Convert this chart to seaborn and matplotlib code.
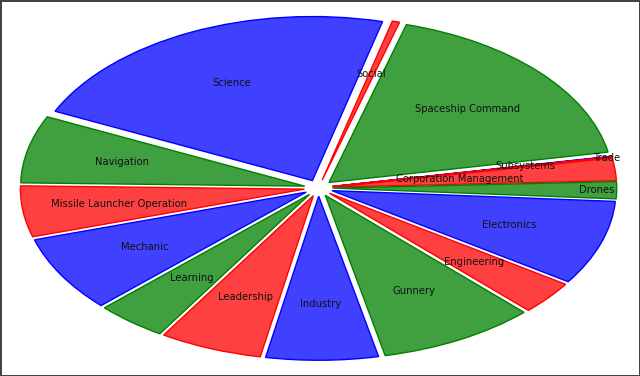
import matplotlib
matplotlib.use('Agg')
import matplotlib.pyplot as plt
import seaborn as sns
import numpy as np
from matplotlib.colors import to_rgba

# skill groups, clockwise from the 3 o'clock side
skills = ['Corporation Management', 'Drones', 'Electronics', 'Engineering', 'Gunnery',
          'Industry', 'Leadership', 'Learning', 'Mechanic', 'Missile Launcher Operation',
          'Navigation', 'Science', 'Social', 'Spaceship Command', 'Subsystems', 'Trade']
share = [2.2, 1.67, 8.3, 3.28, 8.94, 6.36, 5.83, 4.0, 7.44, 5.0,
         6.61, 21.97, 0.42, 17.6, 0.05, 0.08]

sns.set_theme(style='white')
plt.rcParams['font.family'] = ['DejaVu Sans']

# red / green / blue repeating, lighter fill with full colour edge
base = ['#FF0000', '#008000', '#0000FF']
edges = [base[i % 3] for i in range(len(skills))]
faces = [to_rgba(c, 0.75) for c in edges]

# where each label sits along its wedge (fraction of radius)
label_dist = [0.45, 0.93, 0.66, 0.66, 0.66, 0.66, 0.66, 0.66, 0.66, 0.66,
              0.66, 0.66, 0.67, 0.66, 0.69, 0.98]

fig = plt.figure(figsize=(6.4, 3.76), dpi=100, edgecolor='#444444', linewidth=2)
ax = fig.add_axes([0, 0, 1, 1])

wedges, texts = ax.pie(share, labels=skills, startangle=10.2, counterclock=False,
                       explode=[0.05] * len(skills), colors=faces, labeldistance=0.66,
                       wedgeprops=dict(linewidth=1),
                       textprops=dict(fontsize=7.2, ha='center', va='center', color='#111111'))

for w, c in zip(wedges, edges):
    w.set_edgecolor(c)

for w, t, d in zip(wedges, texts, label_dist):
    mid = np.deg2rad((w.theta1 + w.theta2) / 2)
    cx, cy = w.center
    t.set_position((cx + d * np.cos(mid), cy + d * np.sin(mid)))

ax.set_aspect('auto')
ax.set_xlim(-1.1215, 1.132)
ax.set_ylim(-1.146, 1.146)
ax.axis('off')

fig.savefig('out.png', dpi=100, edgecolor=fig.get_edgecolor())
